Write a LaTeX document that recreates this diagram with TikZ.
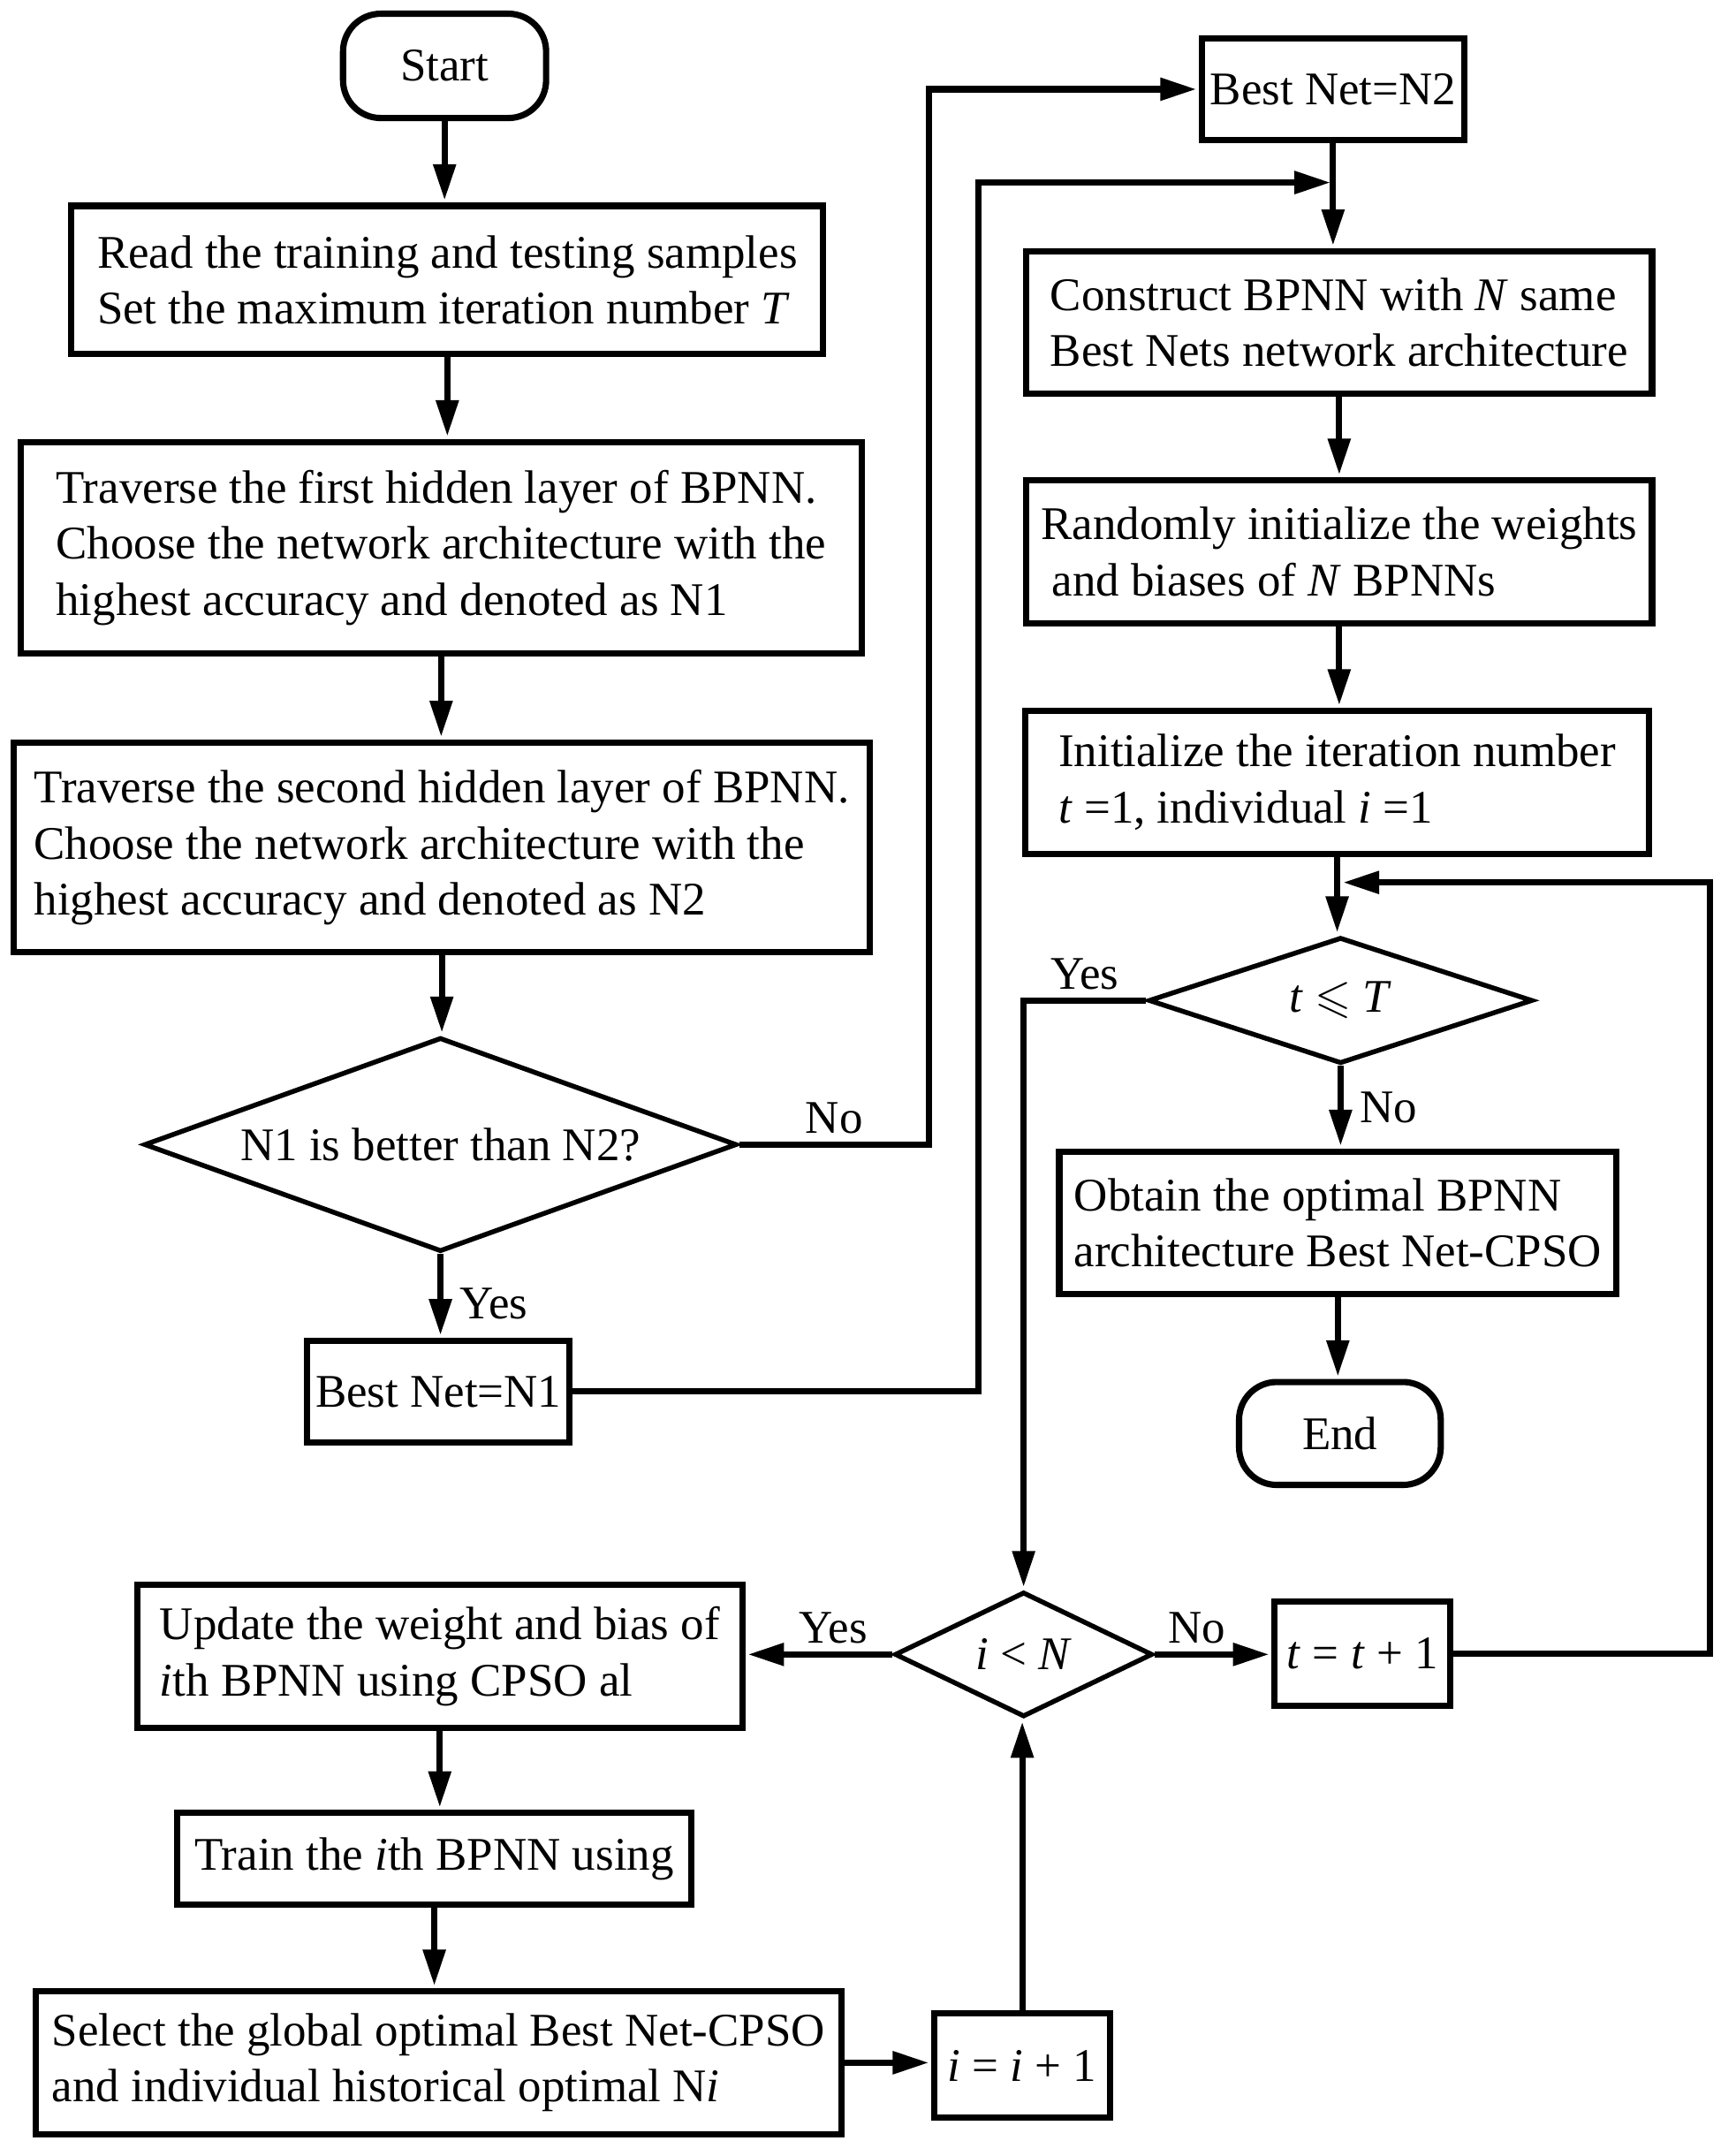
\documentclass[tikz,border=0pt]{standalone}
\usepackage{amssymb}
\usepackage{fontspec}
\setmainfont{Liberation Serif}
\usetikzlibrary{
    arrows.meta,
    shapes.geometric
}

\begin{document}
\begin{tikzpicture}[->,>={Triangle[length=15pt,width=9pt]},shorten >=1pt,line width=2.6pt,font=\fontsize{19.4pt}{23.3pt}\selectfont]
    \tikzstyle{proc}=[draw, rectangle, align=left, inner sep=0pt]
    \tikzstyle{decision}=[draw, diamond, line width=2pt, inner sep=0pt]
    \tikzstyle{terminal}=[draw, rectangle, rounded corners=0.55cm, inner sep=0pt]

    \useasboundingbox (0,0) rectangle (25.3,-31.42);

    % left column
    \node[terminal, minimum width=2.96cm, minimum height=1.52cm] (start) at (6.48,-0.96) {Start};
    \node[proc, minimum width=10.96cm, minimum height=2.16cm] (read) at (6.52,-4.08) {Read the training and testing samples\\Set the maximum iteration number \textit{T}};
    \node[proc, minimum width=12.26cm, minimum height=3.08cm] (trav1) at (6.43,-7.98) {Traverse the first hidden layer of BPNN.\\Choose the network architecture with the\\highest accuracy and denoted as N1};
    \node[proc, minimum width=12.48cm, minimum height=3.06cm] (trav2) at (6.44,-12.35) {Traverse the second hidden layer of BPNN.\\Choose the network architecture with the\\highest accuracy and denoted as N2};
    \node[decision, aspect=2.77, minimum width=8.64cm, minimum height=3.12cm] (better) at (6.42,-16.68) {N1 is better than N2?};
    \node[proc, minimum width=3.82cm, minimum height=1.48cm] (bestA) at (6.39,-20.28) {Best Net=N1};

    % right column
    \node[proc, minimum width=3.82cm, minimum height=1.48cm] (bestB) at (19.43,-1.30) {Best Net=N2};
    \node[proc, minimum width=9.12cm, minimum height=2.08cm] (build) at (19.52,-4.70) {Construct BPNN with \textit{N} same\\Best Nets network architecture};
    \node[proc, minimum width=9.12cm, minimum height=2.08cm] (rand) at (19.52,-8.04) {Randomly initialize the weights\\\hspace*{0.16cm}and biases of \textit{N} BPNNs};
    \node[proc, minimum width=9.10cm, minimum height=2.08cm] (init) at (19.49,-11.40) {Initialize the iteration number\\\textit{t} =1, individual \textit{i} =1};
    \node[decision, aspect=3.04, minimum width=5.6cm, minimum height=1.84cm] (tcheck) at (19.54,-14.58) {\textit{t} $\leqslant$ \textit{T}};
    \node[proc, minimum width=8.12cm, minimum height=2.08cm] (result) at (19.50,-17.82) {Obtain the optimal BPNN\\architecture Best Net-CPSO};
    \node[terminal, minimum width=2.94cm, minimum height=1.50cm] (end) at (19.53,-20.89) {End};

    % inner loop
    \node[decision, aspect=2.07, minimum width=3.76cm, minimum height=1.82cm] (icheck) at (14.92,-24.11) {\textit{i} < \textit{N}};
    \node[proc, minimum width=2.56cm, minimum height=1.52cm] (tnext) at (19.86,-24.10) {\textit{t} = \textit{t} + 1};
    \node[proc, minimum width=8.82cm, minimum height=2.08cm] (update) at (6.41,-24.14) {Update the weight and bias of\\\textit{i}th BPNN using CPSO al};
    \node[proc, minimum width=7.50cm, minimum height=1.34cm] (train) at (6.33,-27.09) {Train the \textit{i}th BPNN using};
    \node[proc, minimum width=11.74cm, minimum height=2.08cm] (select) at (6.39,-30.06) {Select the global optimal Best Net-CPSO\\and individual historical optimal N\textit{i}};
    \node[proc, minimum width=2.56cm, minimum height=1.52cm] (inext) at (14.90,-30.10) {\textit{i} = \textit{i} + 1};

    \coordinate (noturn) at (13.54,-1.30);
    \coordinate (yesturn) at (14.26,-2.66);
    \coordinate (loopturn) at (24.92,-12.86);

    \path (start) edge (start |- read.north);
    \path (read) edge (read |- trav1.north);
    \path (trav1) edge (trav1 |- trav2.north);
    \path (trav2) edge (trav2 |- better.north);
    \path (better) edge node[right, xshift=0.12cm, yshift=-0.12cm] {Yes} (better |- bestA.north);
    \draw (better.east) -| node[pos=0.25, above] {No} (noturn) -- (bestB.west);
    \draw (bestA.east) -| (yesturn) -- (yesturn -| bestB.south);
    \path (bestB) edge (bestB |- build.north);
    \path (build) edge (build |- rand.north);
    \path (rand) edge (rand |- init.north);
    \path (init) edge (init |- tcheck.north);
    \draw (tcheck.west) -| node[pos=0.25, above] {Yes} (icheck.north);
    \path (tcheck) edge node[right, xshift=0.12cm] {No} (tcheck |- result.north);
    \path (result) edge (result |- end.north);
    \path (icheck) edge node[pos=0.4, above] {Yes} (icheck -| update.east);
    \path (icheck) edge node[pos=0.36, above] {No} (icheck -| tnext.west);
    \draw (tnext.east) -| (loopturn) -- (loopturn -| tcheck.north);
    \path (update) edge (update |- train.north);
    \path (train) edge (train |- select.north);
    \path (select) edge (select -| inext.west);
    \path (inext) edge (inext |- icheck.south);
\end{tikzpicture}
\end{document}
